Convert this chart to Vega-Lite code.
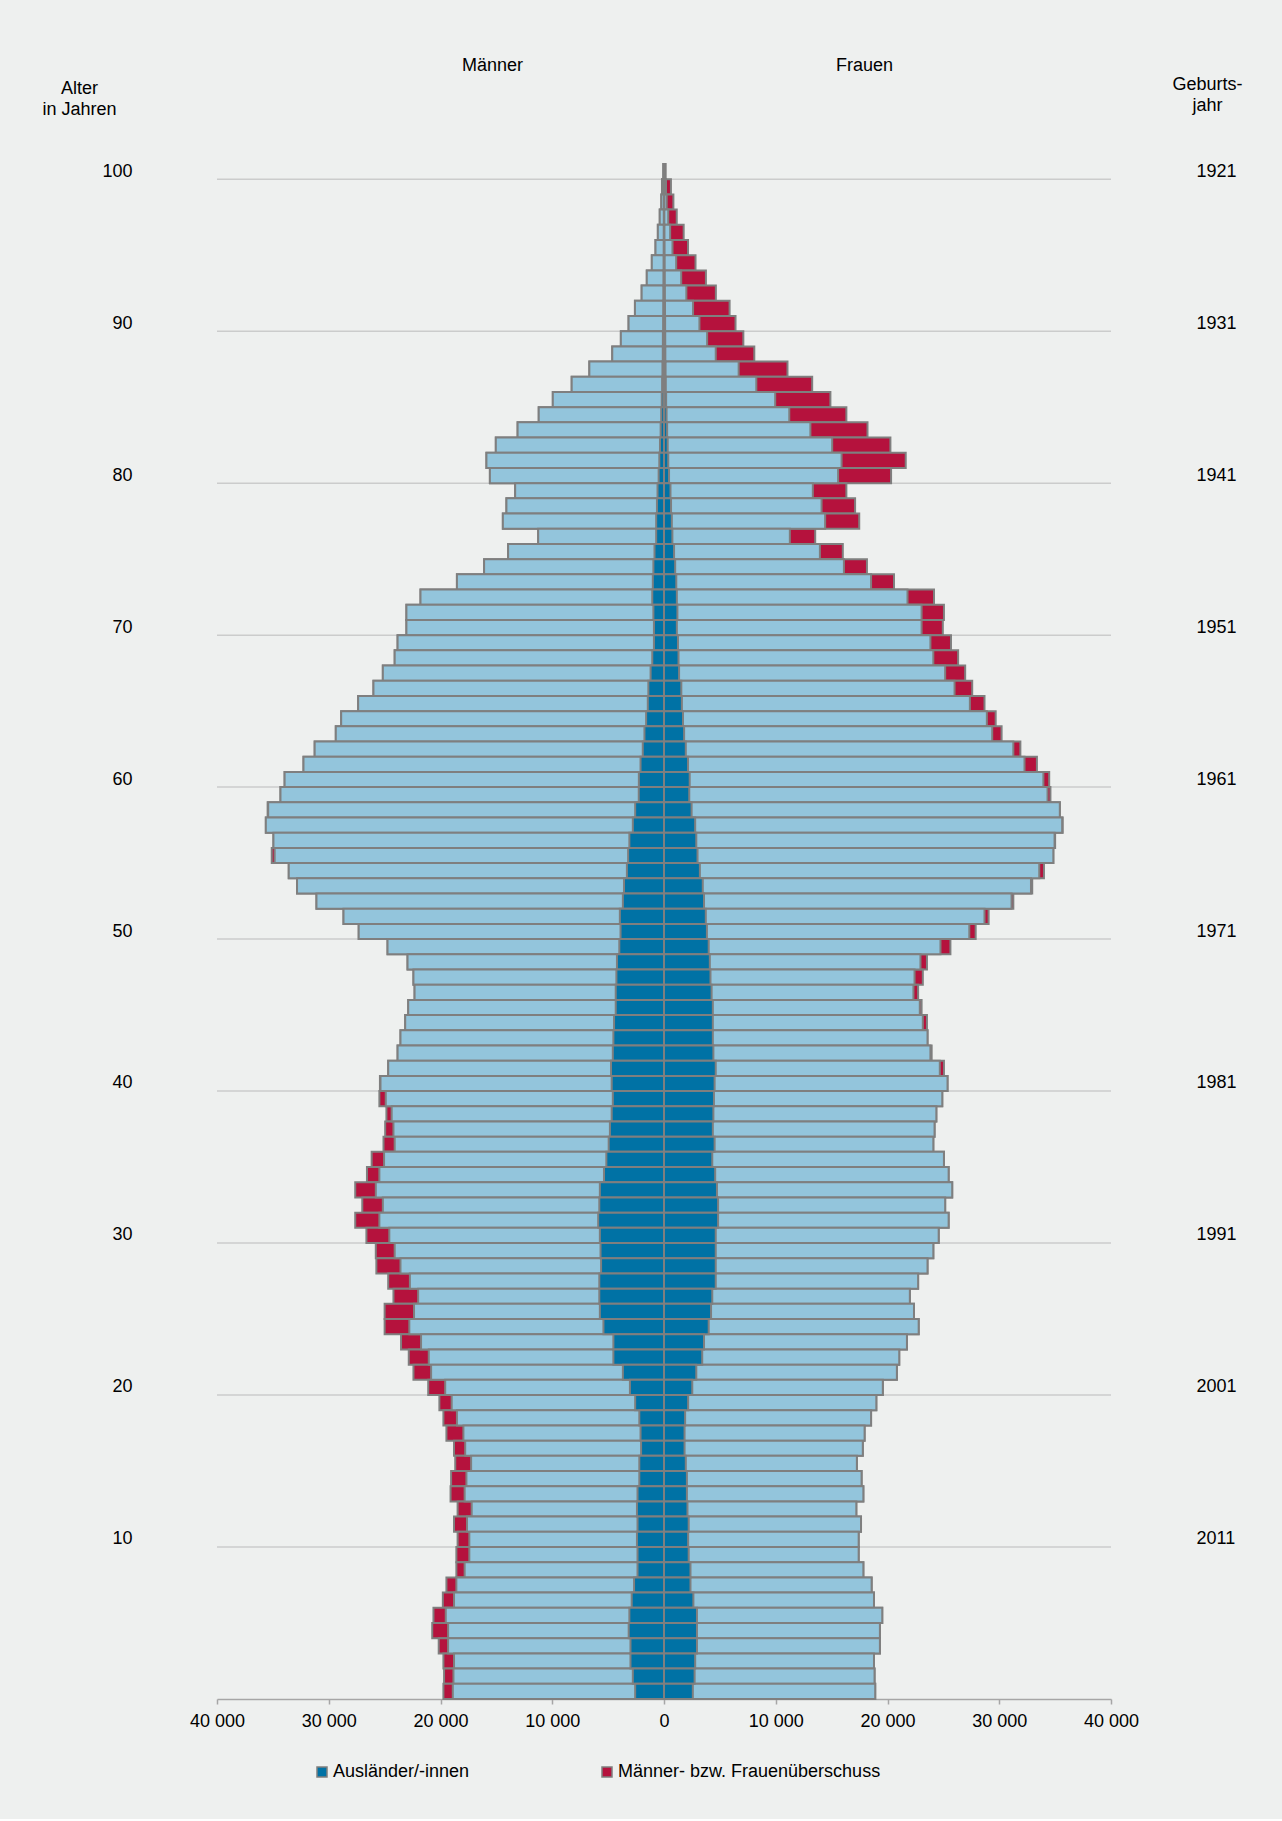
{
  "$schema": "https://vega.github.io/schema/vega-lite/v6.json",
  "background": "#eef0ef",
  "padding": {"left": 41, "top": 57, "right": 41, "bottom": 38},
  "bounds": "flush",
  "config": {
    "font": "Liberation Sans",
    "view": {"stroke": null},
    "axis": {"labelFont": "Liberation Sans", "titleFont": "Liberation Sans", "labelFontSize": 18, "titleFontSize": 18, "labelColor": "#000000", "titleColor": "#000000", "titleFontWeight": "normal"},
    "legend": {"labelFont": "Liberation Sans", "labelFontSize": 18, "labelColor": "#000000"},
    "title": {"font": "Liberation Sans", "fontSize": 18, "fontWeight": "normal", "color": "#000000"}
  },
  "data": {"values": [
    {"alter": 100, "geschlecht": "Männer", "einwohner": 60, "auslaender": 5},
    {"alter": 100, "geschlecht": "Frauen", "einwohner": 150, "auslaender": 10},
    {"alter": 99, "geschlecht": "Männer", "einwohner": 180, "auslaender": 10},
    {"alter": 99, "geschlecht": "Frauen", "einwohner": 620, "auslaender": 20},
    {"alter": 98, "geschlecht": "Männer", "einwohner": 240, "auslaender": 15},
    {"alter": 98, "geschlecht": "Frauen", "einwohner": 840, "auslaender": 25},
    {"alter": 97, "geschlecht": "Männer", "einwohner": 380, "auslaender": 20},
    {"alter": 97, "geschlecht": "Frauen", "einwohner": 1140, "auslaender": 30},
    {"alter": 96, "geschlecht": "Männer", "einwohner": 550, "auslaender": 25},
    {"alter": 96, "geschlecht": "Frauen", "einwohner": 1760, "auslaender": 40},
    {"alter": 95, "geschlecht": "Männer", "einwohner": 760, "auslaender": 30},
    {"alter": 95, "geschlecht": "Frauen", "einwohner": 2150, "auslaender": 50},
    {"alter": 94, "geschlecht": "Männer", "einwohner": 1090, "auslaender": 40},
    {"alter": 94, "geschlecht": "Frauen", "einwohner": 2820, "auslaender": 60},
    {"alter": 93, "geschlecht": "Männer", "einwohner": 1540, "auslaender": 50},
    {"alter": 93, "geschlecht": "Frauen", "einwohner": 3750, "auslaender": 70},
    {"alter": 92, "geschlecht": "Männer", "einwohner": 2000, "auslaender": 60},
    {"alter": 92, "geschlecht": "Frauen", "einwohner": 4640, "auslaender": 80},
    {"alter": 91, "geschlecht": "Männer", "einwohner": 2600, "auslaender": 70},
    {"alter": 91, "geschlecht": "Frauen", "einwohner": 5870, "auslaender": 90},
    {"alter": 90, "geschlecht": "Männer", "einwohner": 3170, "auslaender": 80},
    {"alter": 90, "geschlecht": "Frauen", "einwohner": 6400, "auslaender": 100},
    {"alter": 89, "geschlecht": "Männer", "einwohner": 3860, "auslaender": 100},
    {"alter": 89, "geschlecht": "Frauen", "einwohner": 7100, "auslaender": 110},
    {"alter": 88, "geschlecht": "Männer", "einwohner": 4630, "auslaender": 110},
    {"alter": 88, "geschlecht": "Frauen", "einwohner": 8080, "auslaender": 120},
    {"alter": 87, "geschlecht": "Männer", "einwohner": 6680, "auslaender": 140},
    {"alter": 87, "geschlecht": "Frauen", "einwohner": 11050, "auslaender": 140},
    {"alter": 86, "geschlecht": "Männer", "einwohner": 8260, "auslaender": 170},
    {"alter": 86, "geschlecht": "Frauen", "einwohner": 13260, "auslaender": 160},
    {"alter": 85, "geschlecht": "Männer", "einwohner": 9950, "auslaender": 200},
    {"alter": 85, "geschlecht": "Frauen", "einwohner": 14890, "auslaender": 190},
    {"alter": 84, "geschlecht": "Männer", "einwohner": 11210, "auslaender": 250},
    {"alter": 84, "geschlecht": "Frauen", "einwohner": 16320, "auslaender": 230},
    {"alter": 83, "geschlecht": "Männer", "einwohner": 13100, "auslaender": 300},
    {"alter": 83, "geschlecht": "Frauen", "einwohner": 18210, "auslaender": 280},
    {"alter": 82, "geschlecht": "Männer", "einwohner": 15050, "auslaender": 360},
    {"alter": 82, "geschlecht": "Frauen", "einwohner": 20260, "auslaender": 330},
    {"alter": 81, "geschlecht": "Männer", "einwohner": 15890, "auslaender": 420},
    {"alter": 81, "geschlecht": "Frauen", "einwohner": 21630, "auslaender": 380},
    {"alter": 80, "geschlecht": "Männer", "einwohner": 15580, "auslaender": 480},
    {"alter": 80, "geschlecht": "Frauen", "einwohner": 20320, "auslaender": 450},
    {"alter": 79, "geschlecht": "Männer", "einwohner": 13320, "auslaender": 580},
    {"alter": 79, "geschlecht": "Frauen", "einwohner": 16320, "auslaender": 580},
    {"alter": 78, "geschlecht": "Männer", "einwohner": 14100, "auslaender": 630},
    {"alter": 78, "geschlecht": "Frauen", "einwohner": 17100, "auslaender": 630},
    {"alter": 77, "geschlecht": "Männer", "einwohner": 14420, "auslaender": 700},
    {"alter": 77, "geschlecht": "Frauen", "einwohner": 17470, "auslaender": 700},
    {"alter": 76, "geschlecht": "Männer", "einwohner": 11260, "auslaender": 700},
    {"alter": 76, "geschlecht": "Frauen", "einwohner": 13530, "auslaender": 750},
    {"alter": 75, "geschlecht": "Männer", "einwohner": 13950, "auslaender": 850},
    {"alter": 75, "geschlecht": "Frauen", "einwohner": 16000, "auslaender": 900},
    {"alter": 74, "geschlecht": "Männer", "einwohner": 16100, "auslaender": 950},
    {"alter": 74, "geschlecht": "Frauen", "einwohner": 18160, "auslaender": 1000},
    {"alter": 73, "geschlecht": "Männer", "einwohner": 18530, "auslaender": 1000},
    {"alter": 73, "geschlecht": "Frauen", "einwohner": 20580, "auslaender": 1100},
    {"alter": 72, "geschlecht": "Männer", "einwohner": 21790, "auslaender": 1050},
    {"alter": 72, "geschlecht": "Frauen", "einwohner": 24160, "auslaender": 1150},
    {"alter": 71, "geschlecht": "Männer", "einwohner": 23050, "auslaender": 950},
    {"alter": 71, "geschlecht": "Frauen", "einwohner": 25050, "auslaender": 1200},
    {"alter": 70, "geschlecht": "Männer", "einwohner": 23050, "auslaender": 900},
    {"alter": 70, "geschlecht": "Frauen", "einwohner": 24950, "auslaender": 1150},
    {"alter": 69, "geschlecht": "Männer", "einwohner": 23840, "auslaender": 900},
    {"alter": 69, "geschlecht": "Frauen", "einwohner": 25680, "auslaender": 1250},
    {"alter": 68, "geschlecht": "Männer", "einwohner": 24100, "auslaender": 1050},
    {"alter": 68, "geschlecht": "Frauen", "einwohner": 26320, "auslaender": 1300},
    {"alter": 67, "geschlecht": "Männer", "einwohner": 25160, "auslaender": 1200},
    {"alter": 67, "geschlecht": "Frauen", "einwohner": 26950, "auslaender": 1350},
    {"alter": 66, "geschlecht": "Männer", "einwohner": 26000, "auslaender": 1400},
    {"alter": 66, "geschlecht": "Frauen", "einwohner": 27580, "auslaender": 1550},
    {"alter": 65, "geschlecht": "Männer", "einwohner": 27370, "auslaender": 1450},
    {"alter": 65, "geschlecht": "Frauen", "einwohner": 28680, "auslaender": 1600},
    {"alter": 64, "geschlecht": "Männer", "einwohner": 28890, "auslaender": 1600},
    {"alter": 64, "geschlecht": "Frauen", "einwohner": 29680, "auslaender": 1700},
    {"alter": 63, "geschlecht": "Männer", "einwohner": 29370, "auslaender": 1750},
    {"alter": 63, "geschlecht": "Frauen", "einwohner": 30210, "auslaender": 1800},
    {"alter": 62, "geschlecht": "Männer", "einwohner": 31260, "auslaender": 1900},
    {"alter": 62, "geschlecht": "Frauen", "einwohner": 31890, "auslaender": 1950},
    {"alter": 61, "geschlecht": "Männer", "einwohner": 32260, "auslaender": 2100},
    {"alter": 61, "geschlecht": "Frauen", "einwohner": 33370, "auslaender": 2150},
    {"alter": 60, "geschlecht": "Männer", "einwohner": 33950, "auslaender": 2250},
    {"alter": 60, "geschlecht": "Frauen", "einwohner": 34470, "auslaender": 2300},
    {"alter": 59, "geschlecht": "Männer", "einwohner": 34320, "auslaender": 2260},
    {"alter": 59, "geschlecht": "Frauen", "einwohner": 34580, "auslaender": 2260},
    {"alter": 58, "geschlecht": "Männer", "einwohner": 35470, "auslaender": 2580},
    {"alter": 58, "geschlecht": "Frauen", "einwohner": 35420, "auslaender": 2470},
    {"alter": 57, "geschlecht": "Männer", "einwohner": 35630, "auslaender": 2790},
    {"alter": 57, "geschlecht": "Frauen", "einwohner": 35680, "auslaender": 2790},
    {"alter": 56, "geschlecht": "Männer", "einwohner": 34950, "auslaender": 3100},
    {"alter": 56, "geschlecht": "Frauen", "einwohner": 35000, "auslaender": 2890},
    {"alter": 55, "geschlecht": "Männer", "einwohner": 35100, "auslaender": 3210},
    {"alter": 55, "geschlecht": "Frauen", "einwohner": 34840, "auslaender": 3000},
    {"alter": 54, "geschlecht": "Männer", "einwohner": 33580, "auslaender": 3320},
    {"alter": 54, "geschlecht": "Frauen", "einwohner": 34000, "auslaender": 3210},
    {"alter": 53, "geschlecht": "Männer", "einwohner": 32840, "auslaender": 3580},
    {"alter": 53, "geschlecht": "Frauen", "einwohner": 32950, "auslaender": 3470},
    {"alter": 52, "geschlecht": "Männer", "einwohner": 31100, "auslaender": 3680},
    {"alter": 52, "geschlecht": "Frauen", "einwohner": 31260, "auslaender": 3580},
    {"alter": 51, "geschlecht": "Männer", "einwohner": 28680, "auslaender": 3950},
    {"alter": 51, "geschlecht": "Frauen", "einwohner": 29050, "auslaender": 3740},
    {"alter": 50, "geschlecht": "Männer", "einwohner": 27320, "auslaender": 3890},
    {"alter": 50, "geschlecht": "Frauen", "einwohner": 27890, "auslaender": 3840},
    {"alter": 49, "geschlecht": "Männer", "einwohner": 24740, "auslaender": 4000},
    {"alter": 49, "geschlecht": "Frauen", "einwohner": 25630, "auslaender": 4000},
    {"alter": 48, "geschlecht": "Männer", "einwohner": 22950, "auslaender": 4210},
    {"alter": 48, "geschlecht": "Frauen", "einwohner": 23530, "auslaender": 4100},
    {"alter": 47, "geschlecht": "Männer", "einwohner": 22420, "auslaender": 4260},
    {"alter": 47, "geschlecht": "Frauen", "einwohner": 23160, "auslaender": 4160},
    {"alter": 46, "geschlecht": "Männer", "einwohner": 22320, "auslaender": 4320},
    {"alter": 46, "geschlecht": "Frauen", "einwohner": 22740, "auslaender": 4260},
    {"alter": 45, "geschlecht": "Männer", "einwohner": 22890, "auslaender": 4320},
    {"alter": 45, "geschlecht": "Frauen", "einwohner": 23050, "auslaender": 4370},
    {"alter": 44, "geschlecht": "Männer", "einwohner": 23160, "auslaender": 4470},
    {"alter": 44, "geschlecht": "Frauen", "einwohner": 23530, "auslaender": 4370},
    {"alter": 43, "geschlecht": "Männer", "einwohner": 23580, "auslaender": 4530},
    {"alter": 43, "geschlecht": "Frauen", "einwohner": 23580, "auslaender": 4370},
    {"alter": 42, "geschlecht": "Männer", "einwohner": 23840, "auslaender": 4580},
    {"alter": 42, "geschlecht": "Frauen", "einwohner": 23950, "auslaender": 4420},
    {"alter": 41, "geschlecht": "Männer", "einwohner": 24680, "auslaender": 4740},
    {"alter": 41, "geschlecht": "Frauen", "einwohner": 25050, "auslaender": 4630},
    {"alter": 40, "geschlecht": "Männer", "einwohner": 25420, "auslaender": 4680},
    {"alter": 40, "geschlecht": "Frauen", "einwohner": 25370, "auslaender": 4530},
    {"alter": 39, "geschlecht": "Männer", "einwohner": 25470, "auslaender": 4580},
    {"alter": 39, "geschlecht": "Frauen", "einwohner": 24900, "auslaender": 4470},
    {"alter": 38, "geschlecht": "Männer", "einwohner": 24840, "auslaender": 4680},
    {"alter": 38, "geschlecht": "Frauen", "einwohner": 24370, "auslaender": 4420},
    {"alter": 37, "geschlecht": "Männer", "einwohner": 24950, "auslaender": 4840},
    {"alter": 37, "geschlecht": "Frauen", "einwohner": 24210, "auslaender": 4370},
    {"alter": 36, "geschlecht": "Männer", "einwohner": 25100, "auslaender": 4950},
    {"alter": 36, "geschlecht": "Frauen", "einwohner": 24100, "auslaender": 4530},
    {"alter": 35, "geschlecht": "Männer", "einwohner": 26160, "auslaender": 5160},
    {"alter": 35, "geschlecht": "Frauen", "einwohner": 25050, "auslaender": 4320},
    {"alter": 34, "geschlecht": "Männer", "einwohner": 26580, "auslaender": 5370},
    {"alter": 34, "geschlecht": "Frauen", "einwohner": 25470, "auslaender": 4580},
    {"alter": 33, "geschlecht": "Männer", "einwohner": 27630, "auslaender": 5740},
    {"alter": 33, "geschlecht": "Frauen", "einwohner": 25790, "auslaender": 4740},
    {"alter": 32, "geschlecht": "Männer", "einwohner": 27000, "auslaender": 5790},
    {"alter": 32, "geschlecht": "Frauen", "einwohner": 25160, "auslaender": 4840},
    {"alter": 31, "geschlecht": "Männer", "einwohner": 27630, "auslaender": 5890},
    {"alter": 31, "geschlecht": "Frauen", "einwohner": 25470, "auslaender": 4840},
    {"alter": 30, "geschlecht": "Männer", "einwohner": 26630, "auslaender": 5740},
    {"alter": 30, "geschlecht": "Frauen", "einwohner": 24580, "auslaender": 4630},
    {"alter": 29, "geschlecht": "Männer", "einwohner": 25790, "auslaender": 5680},
    {"alter": 29, "geschlecht": "Frauen", "einwohner": 24100, "auslaender": 4630},
    {"alter": 28, "geschlecht": "Männer", "einwohner": 25740, "auslaender": 5630},
    {"alter": 28, "geschlecht": "Frauen", "einwohner": 23580, "auslaender": 4630},
    {"alter": 27, "geschlecht": "Männer", "einwohner": 24680, "auslaender": 5790},
    {"alter": 27, "geschlecht": "Frauen", "einwohner": 22740, "auslaender": 4630},
    {"alter": 26, "geschlecht": "Männer", "einwohner": 24210, "auslaender": 5790},
    {"alter": 26, "geschlecht": "Frauen", "einwohner": 22000, "auslaender": 4320},
    {"alter": 25, "geschlecht": "Männer", "einwohner": 25000, "auslaender": 5740},
    {"alter": 25, "geschlecht": "Frauen", "einwohner": 22370, "auslaender": 4210},
    {"alter": 24, "geschlecht": "Männer", "einwohner": 25000, "auslaender": 5420},
    {"alter": 24, "geschlecht": "Frauen", "einwohner": 22790, "auslaender": 4000},
    {"alter": 23, "geschlecht": "Männer", "einwohner": 23530, "auslaender": 4530},
    {"alter": 23, "geschlecht": "Frauen", "einwohner": 21740, "auslaender": 3580},
    {"alter": 22, "geschlecht": "Männer", "einwohner": 22840, "auslaender": 4530},
    {"alter": 22, "geschlecht": "Frauen", "einwohner": 21050, "auslaender": 3420},
    {"alter": 21, "geschlecht": "Männer", "einwohner": 22420, "auslaender": 3680},
    {"alter": 21, "geschlecht": "Frauen", "einwohner": 20840, "auslaender": 2890},
    {"alter": 20, "geschlecht": "Männer", "einwohner": 21100, "auslaender": 3050},
    {"alter": 20, "geschlecht": "Frauen", "einwohner": 19580, "auslaender": 2530},
    {"alter": 19, "geschlecht": "Männer", "einwohner": 20100, "auslaender": 2580},
    {"alter": 19, "geschlecht": "Frauen", "einwohner": 19000, "auslaender": 2160},
    {"alter": 18, "geschlecht": "Männer", "einwohner": 19740, "auslaender": 2210},
    {"alter": 18, "geschlecht": "Frauen", "einwohner": 18530, "auslaender": 1890},
    {"alter": 17, "geschlecht": "Männer", "einwohner": 19470, "auslaender": 2100},
    {"alter": 17, "geschlecht": "Frauen", "einwohner": 17950, "auslaender": 1840},
    {"alter": 16, "geschlecht": "Männer", "einwohner": 18790, "auslaender": 2050},
    {"alter": 16, "geschlecht": "Frauen", "einwohner": 17790, "auslaender": 1840},
    {"alter": 15, "geschlecht": "Männer", "einwohner": 18680, "auslaender": 2210},
    {"alter": 15, "geschlecht": "Frauen", "einwohner": 17260, "auslaender": 1950},
    {"alter": 14, "geschlecht": "Männer", "einwohner": 19050, "auslaender": 2210},
    {"alter": 14, "geschlecht": "Frauen", "einwohner": 17680, "auslaender": 2050},
    {"alter": 13, "geschlecht": "Männer", "einwohner": 19100, "auslaender": 2370},
    {"alter": 13, "geschlecht": "Frauen", "einwohner": 17840, "auslaender": 2050},
    {"alter": 12, "geschlecht": "Männer", "einwohner": 18470, "auslaender": 2420},
    {"alter": 12, "geschlecht": "Frauen", "einwohner": 17210, "auslaender": 2100},
    {"alter": 11, "geschlecht": "Männer", "einwohner": 18790, "auslaender": 2370},
    {"alter": 11, "geschlecht": "Frauen", "einwohner": 17630, "auslaender": 2210},
    {"alter": 10, "geschlecht": "Männer", "einwohner": 18470, "auslaender": 2420},
    {"alter": 10, "geschlecht": "Frauen", "einwohner": 17420, "auslaender": 2160},
    {"alter": 9, "geschlecht": "Männer", "einwohner": 18580, "auslaender": 2370},
    {"alter": 9, "geschlecht": "Frauen", "einwohner": 17420, "auslaender": 2210},
    {"alter": 8, "geschlecht": "Männer", "einwohner": 18580, "auslaender": 2370},
    {"alter": 8, "geschlecht": "Frauen", "einwohner": 17840, "auslaender": 2370},
    {"alter": 7, "geschlecht": "Männer", "einwohner": 19470, "auslaender": 2680},
    {"alter": 7, "geschlecht": "Frauen", "einwohner": 18580, "auslaender": 2370},
    {"alter": 6, "geschlecht": "Männer", "einwohner": 19790, "auslaender": 2890},
    {"alter": 6, "geschlecht": "Frauen", "einwohner": 18790, "auslaender": 2630},
    {"alter": 5, "geschlecht": "Männer", "einwohner": 20630, "auslaender": 3100},
    {"alter": 5, "geschlecht": "Frauen", "einwohner": 19530, "auslaender": 2950},
    {"alter": 4, "geschlecht": "Männer", "einwohner": 20740, "auslaender": 3160},
    {"alter": 4, "geschlecht": "Frauen", "einwohner": 19320, "auslaender": 2950},
    {"alter": 3, "geschlecht": "Männer", "einwohner": 20160, "auslaender": 3000},
    {"alter": 3, "geschlecht": "Frauen", "einwohner": 19320, "auslaender": 2950},
    {"alter": 2, "geschlecht": "Männer", "einwohner": 19740, "auslaender": 3000},
    {"alter": 2, "geschlecht": "Frauen", "einwohner": 18790, "auslaender": 2790},
    {"alter": 1, "geschlecht": "Männer", "einwohner": 19680, "auslaender": 2790},
    {"alter": 1, "geschlecht": "Frauen", "einwohner": 18840, "auslaender": 2740},
    {"alter": 0, "geschlecht": "Männer", "einwohner": 19740, "auslaender": 2580},
    {"alter": 0, "geschlecht": "Frauen", "einwohner": 18900, "auslaender": 2580}
  ]},
  "spacing": 0,
  "hconcat": [
    {
      "width": 447,
      "height": 1535,
      "title": {"text": "Männer", "frame": "group", "anchor": "middle", "dx": 52, "offset": -14, "baseline": "bottom"},
      "transform": [
        {"joinaggregate": [{"op": "min", "field": "einwohner", "as": "basis"}], "groupby": ["alter"]},
        {"filter": "datum.geschlecht === 'Männer'"}
      ],
      "layer": [
        {
          "transform": [{"filter": "datum.alter % 10 === 0 && datum.alter > 0"}],
          "mark": {"type": "rule", "color": "#cbcccc", "strokeWidth": 1.5},
          "encoding": {
            "y": {"field": "alter", "type": "ordinal", "sort": "descending", "bandPosition": 1}
          }
        },
        {
          "mark": {"type": "bar", "stroke": "#7f7f7f", "strokeWidth": 2},
          "encoding": {
            "y": {"field": "alter", "type": "ordinal", "sort": "descending",
              "scale": {"type": "band", "paddingInner": 0, "paddingOuter": 0},
              "axis": {"values": [10, 20, 30, 40, 50, 60, 70, 80, 90, 100], "grid": false, "ticks": false, "tickSize": 0, "domain": false, "labelPadding": 85, "labelAlign": "right", "labelBaseline": "middle",
                "title": ["Alter", "in Jahren"], "titleAngle": 0, "titleAlign": "center", "titleBaseline": "top", "titleX": -138, "titleY": -85, "titleLineHeight": 21}},
            "x": {"field": "einwohner", "type": "quantitative",
              "scale": {"domain": [0, 40000], "reverse": true, "nice": false},
              "axis": {"values": [0, 10000, 20000, 30000, 40000], "grid": false, "title": null, "labelFlush": false, "labelExpr": "replace(format(datum.value, ','), ',', ' ')", "domainColor": "#a6a6a6", "domainWidth": 1.5, "tickColor": "#a6a6a6", "tickWidth": 1.5, "tickSize": 5, "labelPadding": 8}},
            "color": {"datum": "Männer- bzw. Frauenüberschuss", "type": "nominal",
              "scale": {"domain": ["Ausländer/-innen", "Männer- bzw. Frauenüberschuss"], "range": ["#0072a5", "#b5123d"]},
              "legend": {"orient": "none", "legendX": 96, "legendY": 1599, "direction": "horizontal", "title": null, "symbolType": "square", "symbolSize": 100, "symbolStrokeColor": "#7f7f7f", "symbolStrokeWidth": 1.5, "labelFontSize": 18, "labelOffset": 2, "labelLimit": 500, "columnPadding": 128}}
          }
        },
        {
          "mark": {"type": "bar", "stroke": "#7f7f7f", "strokeWidth": 2, "fill": "#93c5dc"},
          "encoding": {
            "y": {"field": "alter", "type": "ordinal", "sort": "descending"},
            "x": {"field": "basis", "type": "quantitative"}
          }
        },
        {
          "mark": {"type": "bar", "stroke": "#7f7f7f", "strokeWidth": 2},
          "encoding": {
            "y": {"field": "alter", "type": "ordinal", "sort": "descending"},
            "x": {"field": "auslaender", "type": "quantitative"},
            "color": {"datum": "Ausländer/-innen", "type": "nominal"}
          }
        }
      ]
    },
    {
      "width": 447,
      "height": 1535,
      "title": {"text": "Frauen", "frame": "group", "anchor": "middle", "dx": -23, "offset": -18, "baseline": "bottom"},
      "transform": [
        {"joinaggregate": [{"op": "min", "field": "einwohner", "as": "basis"}], "groupby": ["alter"]},
        {"filter": "datum.geschlecht === 'Frauen'"}
      ],
      "layer": [
        {
          "transform": [{"filter": "datum.alter % 10 === 0 && datum.alter > 0"}],
          "mark": {"type": "rule", "color": "#cbcccc", "strokeWidth": 1.5},
          "encoding": {
            "y": {"field": "alter", "type": "ordinal", "sort": "descending", "bandPosition": 1}
          }
        },
        {
          "mark": {"type": "bar", "stroke": "#7f7f7f", "strokeWidth": 2},
          "encoding": {
            "y": {"field": "alter", "type": "ordinal", "sort": "descending",
              "scale": {"type": "band", "paddingInner": 0, "paddingOuter": 0},
              "axis": {"orient": "right", "values": [10, 20, 30, 40, 50, 60, 70, 80, 90, 100], "grid": false, "ticks": false, "tickSize": 0, "domain": false, "labelPadding": 85, "labelAlign": "left", "labelBaseline": "middle", "labelExpr": "2021 - datum.value",
                "title": ["Geburts-", "jahr"], "titleAngle": 0, "titleAlign": "center", "titleBaseline": "top", "titleX": 96, "titleY": -89, "titleLineHeight": 21}},
            "x": {"field": "einwohner", "type": "quantitative",
              "scale": {"domain": [0, 40000], "nice": false},
              "axis": {"values": [10000, 20000, 30000, 40000], "grid": false, "title": null, "labelFlush": false, "labelExpr": "replace(format(datum.value, ','), ',', ' ')", "domainColor": "#a6a6a6", "domainWidth": 1.5, "tickColor": "#a6a6a6", "tickWidth": 1.5, "tickSize": 5, "labelPadding": 8}},
            "color": {"datum": "Männer- bzw. Frauenüberschuss", "type": "nominal"}
          }
        },
        {
          "mark": {"type": "bar", "stroke": "#7f7f7f", "strokeWidth": 2, "fill": "#93c5dc"},
          "encoding": {
            "y": {"field": "alter", "type": "ordinal", "sort": "descending"},
            "x": {"field": "basis", "type": "quantitative"}
          }
        },
        {
          "mark": {"type": "bar", "stroke": "#7f7f7f", "strokeWidth": 2},
          "encoding": {
            "y": {"field": "alter", "type": "ordinal", "sort": "descending"},
            "x": {"field": "auslaender", "type": "quantitative"},
            "color": {"datum": "Ausländer/-innen", "type": "nominal"}
          }
        }
      ]
    }
  ]
}
